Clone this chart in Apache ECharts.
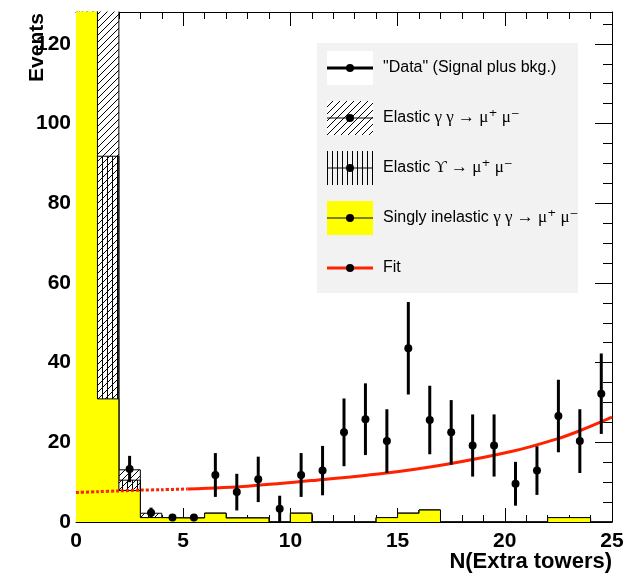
<!DOCTYPE html>
<html>
<head>
<meta charset="utf-8">
<script src="https://cdn.jsdelivr.net/npm/echarts@6/dist/echarts.min.js"></script>
<style>
html, body { margin: 0; padding: 0; background: #fff; }
#chart { width: 631px; height: 577px; }
</style>
</head>
<body>
<div id="chart"></div>
<script>
// bin edges of the histograms (width 1)
const binEdges = [0, 1, 2, 3, 4, 5, 6, 7, 8, 9, 10, 11, 12, 13, 14, 15, 16, 17, 18, 19, 20, 21, 22, 23, 24, 25];

// one value per bin; first bins run off the top of the frame
const inelasticBins = [150, 30.9, 7.9, 1.1, 1.0, 1.0, 2.2, 1.0, 1.0, 0, 2.2, 0, 0, 0, 1.1, 2.2, 3.0, 0, 0, 0, 0, 0, 1.1, 1.1, 0];
const upsilonBins = [0, 60.9, 2.6, 0, 0, 0, 0, 0, 0, 0, 0, 0, 0, 0, 0, 0, 0, 0, 0, 0, 0, 0, 0, 0, 0];
const elasticBins = [0, 60, 2.6, 1.1, 0, 0, 0, 0, 0, 0, 0, 0, 0, 0, 0, 0, 0, 0, 0, 0, 0, 0, 0, 0, 0];

// "Data" points with errors
const dataX = [2.5, 3.5, 4.5, 5.5, 6.5, 7.5, 8.5, 9.5, 10.5, 11.5, 12.5, 13.5, 14.5, 15.5, 16.5, 17.5, 18.5, 19.5, 20.5, 21.5, 22.5, 23.5, 24.5];
const dataY = [13.3, 2.3, 1.1, 1.1, 11.8, 7.5, 10.7, 3.3, 11.8, 12.9, 22.5, 25.8, 20.3, 43.6, 25.6, 22.5, 19.2, 19.2, 9.6, 12.9, 26.6, 20.3, 32.2];
const dataErr = [3.3, 1.3, 0.5, 0.5, 5.5, 4.6, 5.7, 3.3, 5.5, 6.2, 8.5, 9.0, 8.0, 11.6, 8.6, 8.1, 7.8, 7.8, 5.5, 6.1, 9.1, 8.0, 10.1];

// fit curve (dotted part outside the fit range)
const fitDottedX = [0, 1, 2, 3, 4, 5.2];
const fitDottedY = [7.4, 7.6, 7.8, 8.0, 8.1, 8.3];
const fitX = [5.2, 8, 11, 14.2, 17.3, 20.4, 22.4, 23.5, 25];
const fitY = [8.3, 9.0, 10.4, 12.1, 14.5, 17.8, 20.8, 22.9, 26.3];

const yTicks = [0, 20, 40, 60, 80, 100, 120];

const FONT = '"Liberation Sans", Arial, Helvetica, sans-serif';
const SYM = '"Liberation Serif", "DejaVu Serif", serif';
const RED = '#ff2200';
const YELLOW = '#ffff00';

function hatch(kind, size, bg) {
    const c = document.createElement('canvas');
    c.width = size;
    c.height = size;
    const g = c.getContext('2d');
    if (bg) {
        g.fillStyle = bg;
        g.fillRect(0, 0, size, size);
    }
    g.strokeStyle = '#000';
    g.lineWidth = 1;
    g.beginPath();
    if (kind === 'diag') {
        g.moveTo(0, size);
        g.lineTo(size, 0);
        g.moveTo(-1, 1);
        g.lineTo(1, -1);
        g.moveTo(size - 1, size + 1);
        g.lineTo(size + 1, size - 1);
    } else {
        g.moveTo(size / 2, 0);
        g.lineTo(size / 2, size);
    }
    g.stroke();
    return c;
}

const diagPattern = { image: hatch('diag', 7, '#fff'), repeat: 'repeat' };
const vertPattern = { image: hatch('vert', 5, null), repeat: 'repeat' };

// stacked totals, drawn top one first like a THStack
const sumUps = inelasticBins.map((v, i) => v + upsilonBins[i]);
const sumAll = sumUps.map((v, i) => v + elasticBins[i]);

function stepData(vals) {
    const d = vals.map((v, i) => [binEdges[i], v]);
    d.push([binEdges[vals.length], vals[vals.length - 1]]);
    return d;
}

function histSeries(vals, fill, z) {
    return {
        type: 'line',
        step: 'end',
        data: stepData(vals),
        showSymbol: false,
        silent: true,
        z: z,
        lineStyle: { color: '#000', width: 1 },
        areaStyle: { color: fill, opacity: 1 },
    };
}

const axisCommon = {
    type: 'value',
    splitLine: { show: false },
    axisLine: { onZero: false, lineStyle: { color: '#000', width: 1 } },
};

const chart = echarts.init(document.getElementById('chart'));

// legend drawn by hand, ROOT style
const rowY = [68, 118, 168, 218, 268];
const legendText = [
    '{n|"Data" (Signal plus bkg.)}',
    '{n|Elastic }{g|\u03b3 \u03b3 \u2192 \u03bc\u207a \u03bc\u207b}',
    '{n|Elastic }{g|\u03d2 \u2192 \u03bc\u207a \u03bc\u207b}',
    '{n|Singly inelastic }{g|\u03b3 \u03b3 \u2192 \u03bc\u207a \u03bc\u207b}',
    '{n|Fit}',
];
const legendFill = ['#fff', diagPattern, vertPattern, YELLOW, null];
const legendLine = [['#000', 3], ['#000', 1], ['#000', 1], ['#000', 1], [RED, 3]];

const graphics = [
    { type: 'rect', shape: { x: 317, y: 43, width: 261, height: 250 }, style: { fill: '#f2f2f2' }, z: 100 },
];
rowY.forEach((y, i) => {
    if (legendFill[i]) {
        graphics.push({ type: 'rect', shape: { x: 327, y: y - 17, width: 46, height: 34 }, style: { fill: legendFill[i] }, z: 101 });
    }
    graphics.push({ type: 'line', shape: { x1: 327, y1: y, x2: 373, y2: y }, style: { stroke: legendLine[i][0], lineWidth: legendLine[i][1] }, z: 102 });
    graphics.push({ type: 'circle', shape: { cx: 350, cy: y, r: 4 }, style: { fill: '#000' }, z: 103 });
    graphics.push({
        type: 'text', x: 383, y: y, z: 103,
        style: {
            text: legendText[i], fill: '#000', verticalAlign: 'middle',
            rich: {
                n: { fontFamily: FONT, fontSize: 16, fill: '#000' },
                g: { fontFamily: SYM, fontSize: 17, fill: '#000' },
            },
        },
    });
});
graphics.push({
    type: 'text', x: 37, y: 47.5, rotation: Math.PI / 2,
    style: { text: 'Events', font: 'bold 21px ' + FONT, fill: '#000', align: 'center', verticalAlign: 'middle' },
});
graphics.push({
    type: 'text', x: 612, y: 562,
    style: { text: 'N(Extra towers)', font: 'bold 22px ' + FONT, fill: '#000', align: 'right', verticalAlign: 'middle' },
});

const option = {
    animation: false,
    backgroundColor: '#fff',
    grid: { left: 76, right: 19, top: 12, bottom: 55, outerBoundsMode: 'none' },
    xAxis: [
        Object.assign({}, axisCommon, {
            position: 'bottom', min: 0, max: 25, interval: 5,
            axisTick: { inside: true, length: 14, lineStyle: { color: '#000' } },
            minorTick: { show: true, splitNumber: 5, length: 7, lineStyle: { color: '#000' } },
            axisLabel: { color: '#000', fontFamily: FONT, fontWeight: 'bold', fontSize: 21, margin: 9 },
        }),
        Object.assign({}, axisCommon, {
            position: 'top', min: 0, max: 25, interval: 5,
            axisTick: { inside: true, length: 14, lineStyle: { color: '#000' } },
            minorTick: { show: true, splitNumber: 5, length: 7, lineStyle: { color: '#000' } },
            axisLabel: { show: false },
        }),
    ],
    yAxis: [
        Object.assign({}, axisCommon, {
            position: 'left', min: 0, max: 128, interval: 20,
            axisTick: { inside: true, length: 17, lineStyle: { color: '#000' } },
            minorTick: { show: true, splitNumber: 4, length: 9, lineStyle: { color: '#000' } },
            axisLabel: {
                color: '#000', fontFamily: FONT, fontWeight: 'bold', fontSize: 21, margin: 5,
                padding: [4, 0, 0, 0],
                formatter: (v) => (yTicks.indexOf(v) >= 0 ? String(v) : ''),
            },
        }),
        Object.assign({}, axisCommon, {
            position: 'right', min: 0, max: 128, interval: 20,
            axisTick: { inside: true, length: 17, lineStyle: { color: '#000' } },
            minorTick: { show: true, splitNumber: 4, length: 9, lineStyle: { color: '#000' } },
            axisLabel: { show: false },
        }),
    ],
    graphic: graphics,
    series: [
        histSeries(sumAll, diagPattern, 1),
        histSeries(sumUps, vertPattern, 2),
        histSeries(inelasticBins, YELLOW, 3),
        {
            type: 'line',
            data: fitDottedX.map((x, i) => [x, fitDottedY[i]]),
            smooth: 0.3,
            showSymbol: false,
            silent: true,
            z: 4,
            lineStyle: { color: RED, width: 3, type: [3, 2] },
        },
        {
            type: 'line',
            data: fitX.map((x, i) => [x, fitY[i]]),
            smooth: 0.3,
            showSymbol: false,
            silent: true,
            z: 4,
            lineStyle: { color: RED, width: 3 },
        },
        {
            type: 'custom',
            z: 5,
            silent: true,
            data: dataX.map((x, i) => [x, dataY[i], dataErr[i]]),
            encode: { x: 0, y: 1 },
            renderItem: (params, api) => {
                const x = api.value(0);
                const y = api.value(1);
                const e = api.value(2);
                const p1 = api.coord([x, y - e]);
                const p2 = api.coord([x, y + e]);
                return {
                    type: 'line',
                    shape: { x1: p1[0], y1: p1[1], x2: p2[0], y2: p2[1] },
                    style: { stroke: '#000', lineWidth: 3 },
                };
            },
        },
        {
            type: 'scatter',
            z: 6,
            silent: true,
            data: dataX.map((x, i) => [x, dataY[i]]),
            symbol: 'circle',
            symbolSize: 8,
            itemStyle: { color: '#000', opacity: 1 },
        },
    ],
};

chart.setOption(option);
</script>
</body>
</html>
